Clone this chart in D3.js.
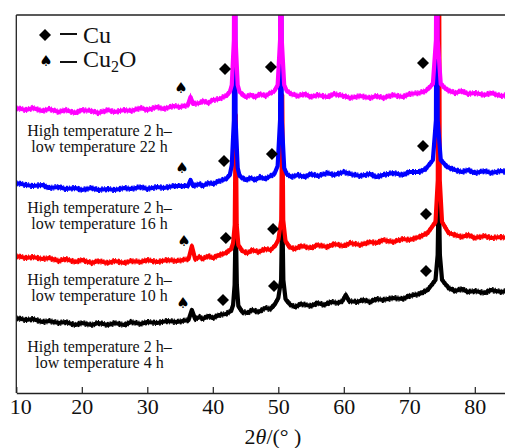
<html>
<head>
<meta charset="utf-8">
<title>XRD Cu / Cu2O</title>
<style>
body {
  margin: 0;
  background: #fff;
}
svg {
  display: block;
  font-family: "Liberation Serif", "Times New Roman", serif;
}
</style>
</head>
<body>
<div id="vis"></div>

<script src="https://cdn.jsdelivr.net/npm/d3@7"></script>
<script>

// x ticks (2theta, degrees)
var xTicks = [10, 20, 30, 40, 50, 60, 70, 80];

// patterns, [2theta, intensity a.u.] (offset stacked)
var pat22h = [[10,285],[11.5,283],[12.5,285],[14,282],[15,284],[16.5,281],[17.5,283],[19,280],[20,283],[21.5,282],[22.5,280],
  [24,283],[25,281],[26.5,283],[27.5,282],[29,285],[30,283],[31.5,286],[32.5,284],[34,287],[35,286],
  [36.2,288],[36.6,296],[37,289],[38,290],[38.5,292],[39.3,290],[40,293],[41,294],[41.6,296],[42,297],[42.6,301],[42.9,308],[43.22,353],[43.35,543],
  [43.48,353],[43.8,308],[44.1,301],[45,296],[45.8,298],[46.5,296],[47.2,299],[48,297],[48.8,300],[49.4,302],[49.9,308],[50.27,353],[50.4,543],[50.53,353],
  [50.9,308],[51.3,302],[52,299],[53,297],[54,299],[55,296],[56,298],[57.5,296],[58.5,299],[60,297],[61,295],[62.5,297],[64,295],[65,297],
  [66,295],[67.5,298],[69,296],[70,299],[71.5,300],[72.5,302],
  [73.6,309],[74.07,353],[74.2,543],[74.33,353],[74.8,309],[75.8,303],[77,300],[78,302],[79,299],[80,300],[81.5,298],[82.5,300],[84,297],[85,298]];

var pat16h = [[10,210],[11.5,208],[12.5,207],[14,208],[15,205],[16.5,206],[17.5,204],[19,205],[20,203],[21.5,205],[22.5,203],
  [24,204],[25,203],[26.5,205],[27.5,204],[29,206],[30,204],[31.5,206],[32.5,205],[34,207],
  [36.2,207],[36.6,213],[37,207],[38,209],[38.5,207],[39.3,210],[40,209],[41,212],[42,214],[42.6,218],[42.9,228],[43.22,273],[43.35,543],
  [43.48,273],[43.8,225],[44.1,217],[45,213],[45.8,215],[46.5,213],[47.2,216],[48,214],[48.8,217],[49.4,219],[49.9,227],[50.27,273],[50.4,543],[50.53,273],
  [50.9,225],[51.3,219],[52,216],[53,218],[54,216],[55,219],[56,217],[57.5,220],[58.5,218],[60,221],[61,219],[62.5,217],[64,219],[65,216],
  [66,218],[67.5,220],[69,218],[70,221],[71.5,221],[72.5,224],
  [73.6,233],[74.07,273],[74.2,543],[74.33,273],[74.8,233],[75.8,226],[77,223],[78,221],[79,223],[80,220],[81.5,222],[82.5,220],[84,222],[85,221]];

var pat10h = [[10,137],[11.5,135],[12.5,136],[14,134],[15,135],[16.5,132],[17.5,134],[19,131],[20,133],[21.5,130],[22.5,132],
  [24,130],[25,132],[26.5,130],[27.5,132],[29,131],[30,133],[31.5,131],[33,133],[34.5,132],
  [36.3,134],[36.8,147],[37.3,134],[38,136],[38.5,134],[39.3,137],[40,135],[41,138],[42,140],[42.8,144],[43.1,150],[43.35,168],[43.5,278],[43.65,168],
  [43.9,148],[44.5,142],[45.3,140],[46,143],[47,141],[48,144],[48.8,143],[49.5,147],[50,153],[50.45,173],[50.6,298],[50.75,173],[51.1,152],[51.7,146],
  [52.5,144],[53.5,147],[55,145],[56,148],[57.5,146],[58.5,149],[60,147],[61,150],[62.5,148],[64,151],[65,150],[66,153],[67.5,151],
  [69,154],[70,153],[71.5,156],[72.8,160],[74,171],[74.35,213],[74.5,543],[74.65,213],
  [75,171],[76,160],[77,158],[78,156],[79,158],[80,155],[81.5,157],[82.5,155],[84,156],[85,155]];

var pat4h = [[10,75],[11.5,73],[12.5,74],[14,71],[15,72],[16.5,70],[17.5,71],[19,68],[20,70],[21.5,68],[22.5,70],
  [24,68],[25,70],[26.5,68],[27.5,71],[29,69],[30,71],[31.5,70],[33,72],[34.5,71],
  [36.3,73],[36.8,83],[37.3,74],[38,76],[38.5,74],[39.3,77],[40,75],[41,78],[42,79],[42.8,82],[43.1,88],[43.33,108],[43.5,176],[43.67,108],
  [43.9,87],[44.5,81],[45.3,80],[46,83],[47,81],[48,85],[48.8,84],[49.5,89],[50,95],[50.43,113],[50.6,188],[50.77,113],[51.1,94],[51.7,89],
  [52.5,86],[53.5,89],[55,87],[56,90],[57,88],[58,91],[59.2,90],[59.8,92],[60.3,98],[60.8,92],[62,91],[63,93],[64,91],[65,94],
  [66,93],[67.5,95],[69,94],[70,97],[71.5,99],[72.8,103],[74,113],[74.33,138],[74.5,208],
  [74.67,138],[75,113],[76,105],[77,102],[78,104],[79,101],[80,102],[81.5,100],[82.5,103],[84,101],[85,102]];

// peak markers, [2theta, intensity]
var cuMarks22h = [[41.86,324],[48.88,326],[72.09,330]];
var cuMarks16h = [[41.71,232],[49.03,239],[72.09,247]];
var cuMarks10h = [[42.0,155],[49.2,164],[72.55,179]];
var cuMarks4h = [[41.56,93],[49.34,107],[72.55,122]];
var oxMarks = [[35.15,306],[35.3,226],[35.6,153],[35.45,91]];

var seriesColors = ["#ff00ff", "#0000ff", "#ff0000", "#000000"];
var labelLines = [
  ["High temperature 2 h\u2013", "low temperature 22 h"],
  ["High temperature 2 h\u2013", "low temperature 16 h"],
  ["High temperature 2 h\u2013", "low temperature 10 h"],
  ["High temperature 2 h\u2013", "low temperature 4 h"]
];

var patterns = [pat22h, pat16h, pat10h, pat4h];
var cuMarks = [cuMarks22h, cuMarks16h, cuMarks10h, cuMarks4h];

var width = 505, height = 448;
var plotLeft = 16.3, plotTop = 15, plotBottom = 393;

var x = d3.scaleLinear().domain([10, 85]).range([plotLeft, plotLeft + 75 * 6.55]);
var y = d3.scaleLinear().domain([0, 378]).range([plotBottom, plotTop]);

var svg = d3.select("#vis").append("svg")
    .attr("width", width)
    .attr("height", height);

svg.append("clipPath").attr("id", "plotClip")
  .append("rect")
    .attr("x", plotLeft)
    .attr("y", plotTop)
    .attr("width", width - plotLeft)
    .attr("height", plotBottom - plotTop);

var line = d3.line()
    .x(function(d) { return x(d[0]); })
    .y(function(d) { return y(d[1]); });

// black first, magenta last (magenta peaks sit on top)
var curves = svg.append("g").attr("clip-path", "url(#plotClip)");
d3.range(patterns.length).reverse().forEach(function(i) {
  var g = curves.append("g");
  g.append("path")
      .datum(patterns[i])
      .attr("d", line)
      .attr("fill", "none")
      .attr("stroke", seriesColors[i])
      .attr("stroke-width", 4.2)
      .attr("stroke-linejoin", "round");
  // ragged edges of the noisy trace
  [[-2.4, "1,2,2,1"], [2.4, "2,1,1,3"]].forEach(function(e) {
    g.append("path")
        .datum(patterns[i])
        .attr("d", line)
        .attr("transform", "translate(0," + e[0] + ")")
        .attr("fill", "none")
        .attr("stroke", seriesColors[i])
        .attr("stroke-width", 1.4)
        .attr("stroke-dasharray", e[1]);
  });
});

// frame
svg.append("line")
    .attr("x1", plotLeft).attr("x2", width)
    .attr("y1", plotTop).attr("y2", plotTop)
    .attr("stroke", "#222").attr("stroke-width", 1.3);
svg.append("line")
    .attr("x1", plotLeft).attr("x2", plotLeft)
    .attr("y1", plotTop).attr("y2", plotBottom)
    .attr("stroke", "#222").attr("stroke-width", 1.3);

var xAxis = d3.axisBottom(x)
    .tickValues(xTicks)
    .tickSizeInner(-6)
    .tickSizeOuter(0)
    .tickPadding(5);

var gx = svg.append("g")
    .attr("transform", "translate(0," + plotBottom + ")")
    .call(xAxis);
gx.select(".domain").attr("stroke", "#222").attr("stroke-width", 1.3);
gx.selectAll(".tick line").attr("stroke", "#222").attr("stroke-width", 1.2);
gx.selectAll(".tick text")
    .attr("font-family", "Liberation Serif, Times New Roman, serif")
    .attr("font-size", 22)
    .attr("fill", "#111");
gx.selectAll(".tick").filter(function(d) { return d === 10; })
  .select("text")
    .attr("text-anchor", "start")
    .attr("x", -7);

var xTitle = svg.append("text")
    .attr("x", 273)
    .attr("y", 444)
    .attr("text-anchor", "middle")
    .attr("font-size", 22)
    .attr("fill", "#111");
xTitle.append("tspan").text("2");
xTitle.append("tspan").attr("font-style", "italic").text("\u03b8");
xTitle.append("tspan").text("/(\u00b0 )");

// markers
var diamond = d3.symbol().type(d3.symbolSquare).size(72);

cuMarks.forEach(function(m) {
  svg.append("g").selectAll("path")
      .data(m).enter()
    .append("path")
      .attr("d", diamond)
      .attr("transform", function(d) { return "translate(" + x(d[0]) + "," + y(d[1]) + ") rotate(45)"; })
      .attr("fill", "#000");
});

svg.append("g").selectAll("text")
    .data(oxMarks).enter()
  .append("text")
    .attr("x", function(d) { return x(d[0]); })
    .attr("y", function(d) { return y(d[1]); })
    .attr("dy", "0.38em")
    .attr("text-anchor", "middle")
    .attr("font-family", "DejaVu Sans")
    .attr("font-size", 15)
    .text("\u2660");

// series labels
var labelBase = [136, 213, 285, 352];
labelLines.forEach(function(lines, i) {
  var t = svg.append("text")
      .attr("x", 99.5)
      .attr("y", labelBase[i])
      .attr("text-anchor", "middle")
      .attr("font-size", 16)
      .attr("fill", "#111");
  t.append("tspan").attr("x", 99.5).text(lines[0]);
  t.append("tspan").attr("x", 99.5).attr("dy", 16).text(lines[1]);
});

// legend
var legend = svg.append("g");
legend.append("path")
    .attr("d", diamond)
    .attr("transform", "translate(45,35) rotate(45)")
    .attr("fill", "#000");
legend.append("text")
    .attr("x", 46).attr("y", 60)
    .attr("dy", "0.38em")
    .attr("text-anchor", "middle")
    .attr("font-family", "DejaVu Sans")
    .attr("font-size", 15)
    .text("\u2660");
[34, 62].forEach(function(ly) {
  legend.append("line")
      .attr("x1", 60).attr("x2", 77)
      .attr("y1", ly).attr("y2", ly)
      .attr("stroke", "#111").attr("stroke-width", 2);
});
legend.append("text")
    .attr("x", 83).attr("y", 43)
    .attr("font-size", 24)
    .attr("fill", "#111")
    .text("Cu");
var ox = legend.append("text")
    .attr("x", 83).attr("y", 67)
    .attr("font-size", 24)
    .attr("fill", "#111");
ox.append("tspan").text("Cu");
ox.append("tspan").attr("font-size", 16).attr("dy", 5).text("2");
ox.append("tspan").attr("dy", -5).text("O");

</script>
</body>
</html>
